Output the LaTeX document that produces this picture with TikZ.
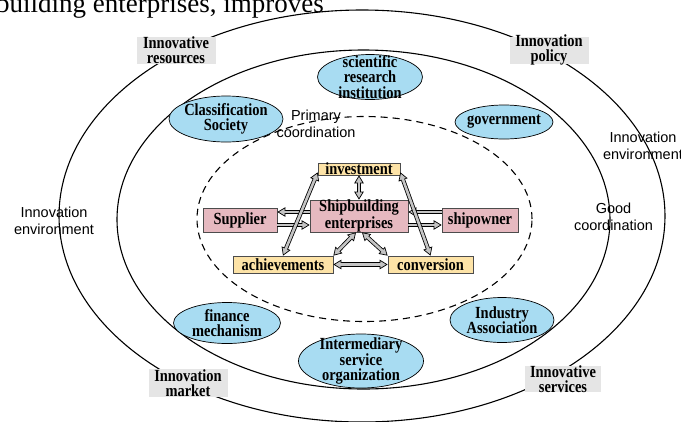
\documentclass[tikz,border=0pt]{standalone}
\usepackage{fontspec}
\setmainfont{Liberation Serif}
\newfontfamily\bserif[FakeStretch=0.85]{Liberation Serif}
\newfontfamily\sansf{Liberation Sans}
\usetikzlibrary{shapes.geometric,arrows.meta}
\definecolor{skyb}{HTML}{A8DCF2}
\definecolor{pinkb}{HTML}{E6B9C0}
\definecolor{orb}{HTML}{FDE3A7}
\definecolor{grayb}{HTML}{E5E5E5}
\definecolor{arrg}{HTML}{C4C4C4}
\tikzset{
 tipA/.tip={Triangle[length=8pt,width=9.5pt,line width=0.7pt,fill=arrg]},
 lab/.style={font=\bserif\bfseries\fontsize{17}{15.5}\selectfont, align=center, inner sep=0pt},
 gbox/.style={rectangle, fill=grayb, inner sep=0pt},
 bell/.style={ellipse, draw=black, fill=skyb, line width=0.7pt, inner sep=0pt},
 pbox/.style={rectangle, draw=black!70, fill=pinkb, line width=0.7pt, inner sep=0pt},
 obox/.style={rectangle, draw=black!70, fill=orb, line width=0.7pt, inner sep=0pt},
 snote/.style={font=\sansf\fontsize{14.5}{17}\selectfont, align=center, inner sep=0pt},
 ring/.style={draw=black, line width=1.1pt},
 dring/.style={draw=black, line width=1.1pt, dash pattern=on 7pt off 5pt},
 oarr/.style={draw=black, line width=4.2pt},
 iarr/.style={draw=arrg, line width=2.6pt},
}
\newcommand\twoway[2]{\draw[oarr,tipA-tipA] #1 -- #2; \draw[iarr,shorten <=6.3pt,shorten >=6.3pt] #1 -- #2;}
\newcommand\oneway[2]{\draw[oarr,-tipA] #1 -- #2; \draw[iarr,shorten >=6.3pt] #1 -- #2;}
\begin{document}
\begin{tikzpicture}[x=1pt,y=-1pt]
\useasboundingbox (0,0) rectangle (681,421);
\fill[white] (0,0) rectangle (681,421);

% clipped line of text at the top
\node[anchor=base west, inner sep=0pt, font=\fontsize{27}{30}\selectfont] (topline) at (-4,12) {building enterprises, improves};

% rings
\draw[ring] (362,216) ellipse [x radius=303pt, y radius=206pt];
\draw[ring] (363.5,219.5) ellipse [x radius=246.5pt, y radius=169.5pt];
\draw[dring] (364.5,219) ellipse [x radius=167.5pt, y radius=102.5pt];

% gray labels
\node[gbox, minimum width=79pt, minimum height=27pt] (res) at (176,50) {};
\node[lab] (rest) at (res) {Innovative\\resources};
\node[gbox, minimum width=79pt, minimum height=27pt] (pol) at (549,50) {};
\node[lab] (polt) at (pol) {Innovation\\policy};
\node[gbox, minimum width=79pt, minimum height=28pt] (mkt) at (188,383) {};
\node[lab] (mktt) at (mkt) {Innovation\\market};
\node[gbox, minimum width=76pt, minimum height=26pt] (srv) at (563,379) {};
\node[lab] (srvt) at (srv) {Innovative\\services};

% blue ellipses
\node[bell, minimum width=105pt, minimum height=45pt] (sci) at (370,77) {};
\node[lab] (scit) at (sci) {scientific\\research\\institution};
\node[bell, minimum width=114pt, minimum height=46pt] (cls) at (226,119) {};
\node[lab] (clst) at (cls) {Classification\\Society};
\node[bell, minimum width=98pt, minimum height=34pt] (gov) at (504,122) {};
\node[lab] (govt) at (gov) {government};
\node[bell, minimum width=107pt, minimum height=41pt] (fin) at (227,323) {};
\node[lab] (fint) at (fin) {finance\\mechanism};
\node[bell, minimum width=104pt, minimum height=45pt] (ind) at (502,320) {};
\node[lab] (indt) at (ind) {Industry\\Association};
\node[bell, minimum width=125pt, minimum height=54pt] (int) at (361,361) {};
\node[lab] (intt) at (int) {Intermediary\\service\\organization};

% sans notes
\node[snote] (envl) at (54,221) {Innovation\\environment};
\node[snote] (envr) at (643,146) {Innovation\\environment};
\node[snote] (good) at (613.5,217) {Good\\coordination};
\node[snote] (prim) at (316,124) {Primary\\coordination};

% core boxes
\node[obox, minimum width=82pt, minimum height=12pt] (inv) at (359,169) {};
\node[pbox, minimum width=98pt, minimum height=32pt] (ship) at (359,216) {};
\node[pbox, minimum width=74pt, minimum height=24pt] (sup) at (240,220) {};
\node[pbox, minimum width=76pt, minimum height=24pt] (own) at (480,220) {};
\node[obox, minimum width=100pt, minimum height=17pt] (ach) at (283,264.5) {};
\node[obox, minimum width=85pt, minimum height=17pt] (con) at (430.5,264.5) {};

% arrows
\twoway{(inv.south)}{(ship.north)}
\oneway{([yshift=4pt]ship.west)}{([yshift=8pt]sup.east)}
\oneway{([yshift=-5pt]sup.east)}{([yshift=-9pt]ship.west)}
\oneway{([yshift=8pt]own.west)}{([yshift=4pt]ship.east)}
\oneway{([yshift=-9pt]ship.east)}{([yshift=-5pt]own.west)}
\twoway{([yshift=3pt]inv.south west)}{(ach.north)}
\twoway{([yshift=3pt]inv.south east)}{(con.north)}
\twoway{([xshift=-3pt]ship.south)}{(ach.north east)}
\twoway{([xshift=3pt]ship.south)}{(con.north west)}
\twoway{(ach.east)}{(con.west)}

% core texts
\node[lab] (invt) at (inv) {investment};
\node[lab] (shipt) at (ship) {Shipbuilding\\enterprises};
\node[lab] (supt) at (sup) {Supplier};
\node[lab] (ownt) at (own) {shipowner};
\node[lab] (acht) at (ach) {achievements};
\node[lab] (cont) at (con) {conversion};
\end{tikzpicture}
\end{document}
